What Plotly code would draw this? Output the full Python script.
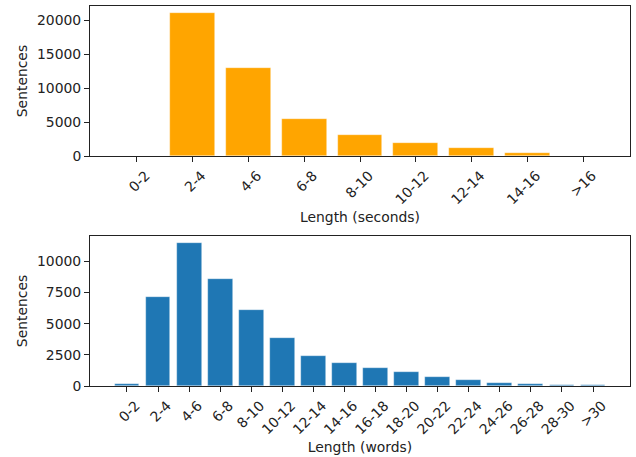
import plotly.graph_objects as go
from plotly.subplots import make_subplots

sec_labels = ["0-2", "2-4", "4-6", "6-8", "8-10", "10-12", "12-14", "14-16", ">16"]
sec_counts = [0, 21050, 12900, 5440, 3050, 1970, 1220, 440, 20]

word_labels = ["0-2", "2-4", "4-6", "6-8", "8-10", "10-12", "12-14", "14-16",
               "16-18", "18-20", "20-22", "22-24", "24-26", "26-28", "28-30", ">30"]
word_counts = [160, 7170, 11470, 8590, 6110, 3890, 2400, 1810,
               1410, 1090, 750, 480, 240, 160, 80, 80]

sec_yticks = [0, 5000, 10000, 15000, 20000]
word_yticks = [0, 2500, 5000, 7500, 10000]

FONT = "DejaVu Sans"
FS = 13.9
TXT = "#222"

fig = make_subplots(rows=2, cols=1)
fig.add_trace(go.Bar(x=list(range(len(sec_labels))), y=sec_counts, width=0.8,
                     marker=dict(color="#FFA500", line=dict(color="rgba(255,255,255,0.6)", width=0.6))),
              row=1, col=1)
fig.add_trace(go.Bar(x=list(range(len(word_labels))), y=word_counts, width=0.8,
                     marker=dict(color="#1f77b4", line=dict(color="rgba(255,255,255,0.6)", width=0.6))),
              row=2, col=1)

axis_common = dict(showline=True, linecolor=TXT, linewidth=1, mirror=True,
                   ticks="outside", ticklen=5, tickcolor=TXT, showgrid=False,
                   zeroline=False, automargin=False,
                   tickfont=dict(family=FONT, size=FS, color=TXT))

fig.update_xaxes(**axis_common)
fig.update_yaxes(**axis_common)

title_font = dict(family=FONT, size=FS, color=TXT)

fig.update_layout(
    xaxis=dict(domain=[0, 1], range=[-0.84, 8.84], tickmode="array",
               tickvals=list(range(len(sec_labels))), ticktext=sec_labels,
               tickangle=-45, ticklabelshift=9,
               title=dict(text="Length (seconds)", font=title_font, standoff=5)),
    yaxis=dict(domain=[0.605, 1.0], range=[0, 22100], tickmode="array",
               tickvals=sec_yticks, ticktext=[str(v) for v in sec_yticks],
               title=dict(text="Sentences", font=title_font, standoff=6)),
    xaxis2=dict(domain=[0, 1], range=[-1.19, 16.19], tickmode="array",
                tickvals=list(range(len(word_labels))), ticktext=word_labels,
                tickangle=-45, ticklabelshift=9,
                title=dict(text="Length (words)", font=title_font, standoff=5)),
    yaxis2=dict(domain=[0, 0.3947], range=[0, 12040], tickmode="array",
                tickvals=word_yticks, ticktext=[str(v) for v in word_yticks],
                title=dict(text="Sentences", font=title_font, standoff=6)),
    width=636, height=457,
    margin=dict(l=90, r=6, t=6, b=71),
    plot_bgcolor="white", paper_bgcolor="white",
    showlegend=False, bargap=0,
    font=dict(family=FONT, size=FS, color=TXT),
)

fig.write_html("out.html", config={"displayModeBar": False},
               post_script="document.body.style.margin='0';document.body.style.overflow='hidden';")
